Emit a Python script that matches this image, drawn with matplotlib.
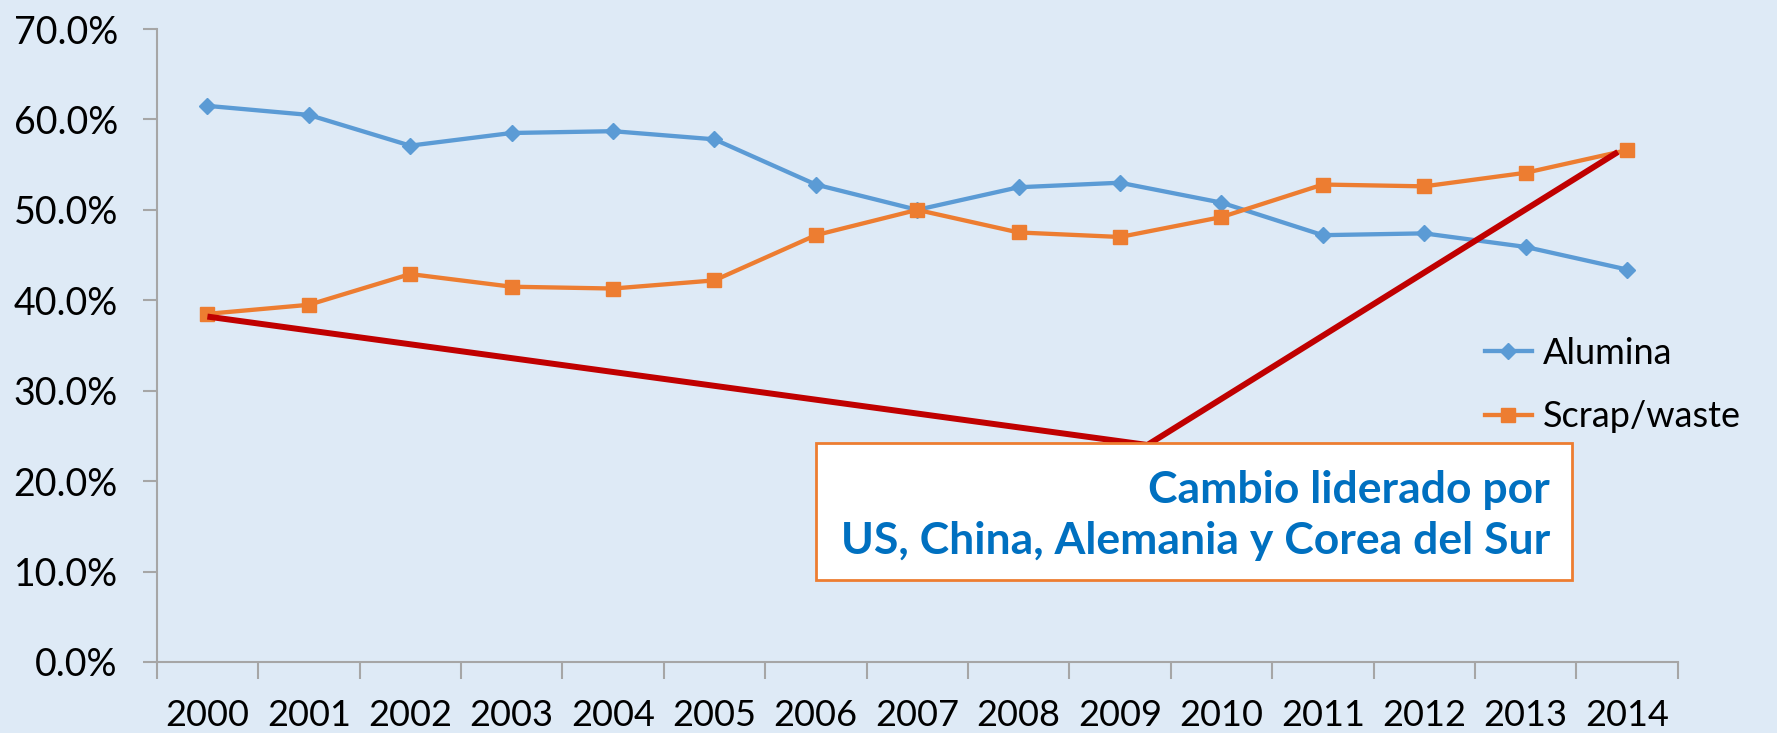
import matplotlib.pyplot as plt
from matplotlib.patches import Rectangle
from matplotlib.ticker import FixedLocator, FuncFormatter

years = ['2000', '2001', '2002', '2003', '2004', '2005', '2006', '2007',
         '2008', '2009', '2010', '2011', '2012', '2013', '2014']
alumina = [61.5, 60.5, 57.1, 58.5, 58.7, 57.8, 52.8, 50.0,
           52.5, 53.0, 50.8, 47.2, 47.4, 45.9, 43.4]
scrap_waste = [38.5, 39.5, 42.9, 41.5, 41.3, 42.2, 47.2, 50.0,
               47.5, 47.0, 49.2, 52.8, 52.6, 54.1, 56.6]

# red guide line (x in category index, y in percent)
trend_x = [0.0, 9.27, 13.91]
trend_y = [38.2, 24.0, 56.4]

note_lines = ['Cambio liderado por', 'US, China, Alemania y Corea del Sur']

bg = '#DEEAF6'
blue = '#5B9BD5'
orange = '#ED7D31'
grey = '#A6A6A6'
font = ['Lato', 'DejaVu Sans']

plt.rcParams['font.family'] = font

W, H = 1777, 733
fig = plt.figure(figsize=(W / 100, H / 100), dpi=100, facecolor=bg)
ax = fig.add_axes([156.7 / W, 71 / H, 1521 / W, 633 / H], facecolor=bg)

x = list(range(len(years)))
ax.plot(x, alumina, color=blue, lw=3.1, marker='D', ms=8.5, label='Alumina', zorder=3)
ax.plot(x, scrap_waste, color=orange, lw=3.1, marker='s', ms=9.5, label='Scrap/waste', zorder=3)
ax.plot(trend_x, trend_y, color='#C00000', lw=4.3, solid_capstyle='butt', zorder=4, clip_on=False)

ax.set_xlim(-0.5, len(years) - 0.5)
ax.set_ylim(0, 70)
ax.set_yticks(range(0, 71, 10))
ax.yaxis.set_major_formatter(FuncFormatter(lambda v, p: f'{v:.1f}%'))

ax.set_xticks(x)
ax.set_xticklabels(years)
ax.xaxis.set_minor_locator(FixedLocator([i - 0.5 for i in range(len(years) + 1)]))
ax.tick_params(axis='x', which='major', length=0, pad=27, labelsize=26)
ax.tick_params(axis='x', which='minor', length=12, width=1.5, color=grey, direction='out')
ax.tick_params(axis='y', length=10, width=1.5, color=grey, pad=18, labelsize=27)

for s in ['top', 'right']:
    ax.spines[s].set_visible(False)
for s in ['left', 'bottom']:
    ax.spines[s].set_color(grey)
    ax.spines[s].set_linewidth(1.5)

leg = fig.legend(loc='center left', bbox_to_anchor=(1485 / W, 1 - 385 / H), frameon=False,
                 fontsize=26, handlelength=1.3, handletextpad=0.3, labelspacing=0.85,
                 borderpad=0, borderaxespad=0)

# note box
fig.patches.append(Rectangle((816 / W, 1 - 580 / H), (1572 - 816) / W, (580 - 443) / H,
                             transform=fig.transFigure, facecolor='white',
                             edgecolor=orange, lw=2, zorder=5))
fig.text(1550 / W, 1 - 503 / H, note_lines[0], ha='right', va='baseline',
         color='#0070C0', fontsize=32, fontweight='bold', zorder=6)
fig.text(1550 / W, 1 - 554 / H, note_lines[1], ha='right', va='baseline',
         color='#0070C0', fontsize=32, fontweight='bold', zorder=6)

fig.savefig('out.png', dpi=100, facecolor=bg)
